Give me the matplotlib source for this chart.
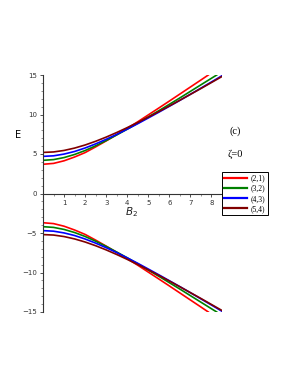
import matplotlib as mpl
import matplotlib.pyplot as plt
from matplotlib.ticker import MultipleLocator
import numpy as np

mpl.rcParams.update({
    "font.family": "DejaVu Sans",
    "axes.linewidth": 0.8,
})

# values (upper branch, lower branch is the mirror image)
B_common = [0, 0.5, 1, 1.5, 2, 2.5, 3, 3.5, 4, 4.5, 5, 5.5, 6, 6.5, 7, 7.5, 8]

B_21 = B_common[:-1] + [7.85]
E_21 = [3.70, 3.81, 4.14, 4.62, 5.18, 5.90, 6.66, 7.45, 8.25, 9.08, 9.95,
        10.82, 11.70, 12.59, 13.48, 14.37, 15.00]

B_32 = B_common + [8.25]
E_32 = [4.20, 4.29, 4.55, 4.94, 5.44, 6.04, 6.70, 7.41, 8.14, 8.90, 9.69,
        10.48, 11.29, 12.10, 12.93, 13.76, 14.59, 15.00]

B_43 = B_common + [8.5]
E_43 = [4.70, 4.77, 4.99, 5.32, 5.76, 6.28, 6.86, 7.48, 8.15, 8.84, 9.56,
        10.29, 11.04, 11.79, 12.56, 13.34, 14.12, 14.91]

B_54 = B_common + [8.5]
E_54 = [5.20, 5.26, 5.45, 5.75, 6.14, 6.61, 7.14, 7.72, 8.34, 8.99, 9.67,
        10.37, 11.08, 11.81, 12.55, 13.29, 14.05, 14.81]

SERIES = [
    ("(2,1)", B_21, E_21, "#ff0000"),
    ("(3,2)", B_32, E_32, "#008000"),
    ("(4,3)", B_43, E_43, "#0000ff"),
    ("(5,4)", B_54, E_54, "#800000"),
]

fig = plt.figure(figsize=(2.91, 3.76), dpi=100)
ax = fig.add_axes([43 / 291, 64 / 376, 179 / 291, 237 / 376])

for label, b, e, col in SERIES:
    ax.plot(b, e, color=col, lw=1.2, label=label)
    ax.plot(b, -np.asarray(e), color=col, lw=1.2)

ax.set_xlim(0, 8.5)
ax.set_ylim(-15, 15)

ax.spines["right"].set_visible(False)
ax.spines["top"].set_visible(False)
ax.spines["bottom"].set_position(("data", 0))
ax.spines["left"].set_position(("data", 0))
for s in ("left", "bottom"):
    ax.spines[s].set_color("#333333")

ax.set_xticks([1, 2, 3, 4, 5, 6, 7, 8])
ax.xaxis.set_minor_locator(MultipleLocator(0.5))
ax.set_yticks([-15, -10, -5, 0, 5, 10, 15])
ax.yaxis.set_minor_locator(MultipleLocator(1))
ax.tick_params(which="major", length=2.5, width=0.6, labelsize=5,
               colors="#333333", pad=2)
ax.tick_params(which="minor", length=1.3, width=0.5, colors="#666666")

fig.text(18 / 291, 1 - 135 / 376, "E", fontsize=7, ha="center", va="center")
fig.text(131 / 291, 1 - 212 / 376, "$B_2$", fontsize=7.5, ha="center",
         va="center", color="#222222")
fig.text(235 / 291, 1 - 131 / 376, "(c)", fontsize=7.5, family="Liberation Serif",
         ha="center", va="center")
fig.text(235 / 291, 1 - 154 / 376, "ζ=0", fontsize=7.5, family="Liberation Serif",
         ha="center", va="center")

leg = ax.legend(loc="upper left", bbox_to_anchor=(222 / 291, 1 - 172 / 376),
                bbox_transform=fig.transFigure, frameon=True, fancybox=False,
                edgecolor="black", framealpha=1,
                prop={"family": "Liberation Serif", "size": 5.5},
                handlelength=3.0, handletextpad=0.5, borderpad=0.3,
                labelspacing=0.3, borderaxespad=0)
leg.get_frame().set_linewidth(0.7)
for ln in leg.get_lines():
    ln.set_linewidth(1.6)

fig.savefig("out.png", dpi=100)
